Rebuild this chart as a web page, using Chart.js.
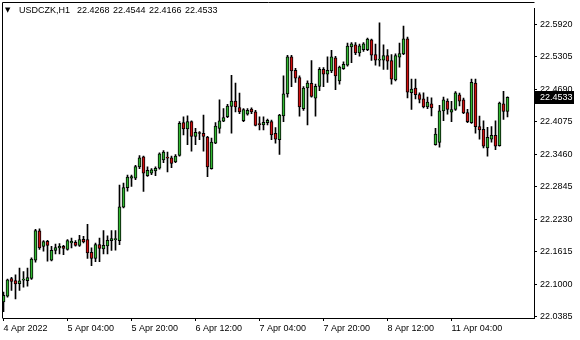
<!DOCTYPE html>
<html>
<head>
<meta charset="utf-8">
<script src="https://cdn.jsdelivr.net/npm/chart.js@4.4.0/dist/chart.umd.min.js"></script>
<style>
  html, body { margin: 0; padding: 0; background: #fff; }
  canvas { display: block; }
</style>
</head>
<body>
<canvas id="chart" width="580" height="340"></canvas>
<script>
'use strict';

// ── データ（USDCZK H1, 4 Apr 12:00 – 11 Apr 18:00） ──────────────────────
const SYMBOL = 'USDCZK,H1';

const OPEN = [
  22.0664, 22.0776, 22.1105, 22.1068, 22.1012, 22.1077, 22.1068, 22.1111, 22.1453, 22.2010,
  22.1713, 22.1811, 22.1453, 22.1639, 22.1687, 22.1718, 22.1657, 22.1780, 22.1793, 22.1732,
  22.1849, 22.1843, 22.1601, 22.1490, 22.1750, 22.1668, 22.1724, 22.1824, 22.1843, 22.1824,
  22.2456, 22.2828, 22.3007, 22.3007, 22.3219, 22.3410, 22.3051, 22.3100, 22.3144, 22.3193,
  22.3349, 22.3392, 22.3392, 22.3312, 22.3434, 22.4055, 22.3936, 22.4074, 22.3795, 22.3856,
  22.3856, 22.3782, 22.3187, 22.3670, 22.3949, 22.4085, 22.4167, 22.4364, 22.4464, 22.4340,
  22.4092, 22.4215, 22.4315, 22.4260, 22.4024, 22.4011, 22.4055, 22.4074, 22.3856, 22.3732,
  22.4185, 22.4600, 22.5301, 22.5046, 22.4910, 22.4321, 22.4711, 22.4799, 22.4520, 22.4743,
  22.5065, 22.4972, 22.5033, 22.5282, 22.4847, 22.5078, 22.5145, 22.5487, 22.5529, 22.5375,
  22.5436, 22.5436, 22.5622, 22.5344, 22.5238, 22.5238, 22.5325, 22.5232, 22.4866, 22.5293,
  22.5357, 22.5641, 22.4624, 22.4711, 22.4587, 22.4507, 22.4353, 22.4414, 22.3639, 22.3683,
  22.4278, 22.4464, 22.4252, 22.4308, 22.4581, 22.4488, 22.4247, 22.4055, 22.4804, 22.3981,
  22.3931, 22.3577, 22.3745, 22.3814, 22.3620, 22.4414, 22.4268
];
const HIGH = [
  22.0850, 22.1099, 22.1129, 22.1179, 22.1304, 22.1241, 22.1304, 22.1501, 22.2040, 22.2048,
  22.1824, 22.1830, 22.1718, 22.1761, 22.1769, 22.1737, 22.1843, 22.1873, 22.1824, 22.1923,
  22.1904, 22.2133, 22.1687, 22.1780, 22.1873, 22.2016, 22.1917, 22.2016, 22.2016, 22.2877,
  22.2914, 22.3063, 22.3063, 22.3248, 22.3434, 22.3423, 22.3219, 22.3187, 22.3219, 22.3485,
  22.3527, 22.3498, 22.3423, 22.3453, 22.4074, 22.4167, 22.4185, 22.4092, 22.3949, 22.3888,
  22.4197, 22.3795, 22.3763, 22.4055, 22.4488, 22.4321, 22.4401, 22.4953, 22.4804, 22.4613,
  22.4321, 22.4321, 22.4334, 22.4289, 22.4167, 22.4167, 22.4122, 22.4104, 22.3962, 22.4215,
  22.4940, 22.5331, 22.5331, 22.5083, 22.4940, 22.4736, 22.4847, 22.5232, 22.4786, 22.5096,
  22.5096, 22.5301, 22.5423, 22.5312, 22.5126, 22.5208, 22.5561, 22.5572, 22.5572, 22.5542,
  22.5572, 22.5654, 22.5635, 22.5542, 22.5944, 22.5529, 22.5436, 22.5344, 22.5357, 22.5561,
  22.5883, 22.5673, 22.4879, 22.4879, 22.4619, 22.4619, 22.4539, 22.4526, 22.3949, 22.4382,
  22.4539, 22.4507, 22.4457, 22.4643, 22.4613, 22.4520, 22.4308, 22.4879, 22.4879, 22.4178,
  22.4092, 22.3968, 22.3981, 22.4092, 22.4446, 22.4650, 22.4544
];
const LOW = [
  22.0479, 22.0757, 22.0882, 22.0720, 22.0882, 22.0943, 22.0962, 22.1092, 22.1415, 22.1657,
  22.1626, 22.1434, 22.1440, 22.1575, 22.1575, 22.1557, 22.1644, 22.1687, 22.1718, 22.1713,
  22.1780, 22.1490, 22.1352, 22.1427, 22.1427, 22.1575, 22.1575, 22.1639, 22.1644, 22.1750,
  22.2443, 22.2760, 22.2852, 22.2977, 22.3187, 22.2754, 22.3038, 22.3070, 22.3051, 22.3174,
  22.3299, 22.3126, 22.3206, 22.3299, 22.3423, 22.3825, 22.3639, 22.3516, 22.3639, 22.3732,
  22.3516, 22.3033, 22.3174, 22.3657, 22.3856, 22.4074, 22.4148, 22.3856, 22.4260, 22.4228,
  22.4074, 22.4197, 22.4228, 22.3992, 22.3918, 22.3918, 22.4011, 22.3732, 22.3670, 22.3453,
  22.4074, 22.4539, 22.4736, 22.4817, 22.4178, 22.4289, 22.4011, 22.4539, 22.4178, 22.4661,
  22.4736, 22.4817, 22.5003, 22.4680, 22.4786, 22.5065, 22.5126, 22.5189, 22.5344, 22.5312,
  22.5405, 22.5418, 22.5232, 22.5145, 22.5126, 22.5065, 22.5065, 22.4786, 22.4847, 22.5107,
  22.5344, 22.4526, 22.4308, 22.4507, 22.4427, 22.4334, 22.4321, 22.4185, 22.3628, 22.3591,
  22.4092, 22.4215, 22.4074, 22.4289, 22.4371, 22.4228, 22.4055, 22.4042, 22.3856, 22.3745,
  22.3577, 22.3423, 22.3689, 22.3546, 22.3609, 22.4117, 22.4166
];
const CLOSE = [
  22.0789, 22.1081, 22.1055, 22.1007, 22.1062, 22.1081, 22.1124, 22.1477, 22.2016, 22.1687,
  22.1806, 22.1732, 22.1639, 22.1694, 22.1718, 22.1676, 22.1824, 22.1811, 22.1732, 22.1843,
  22.1798, 22.1594, 22.1490, 22.1750, 22.1676, 22.1737, 22.1830, 22.1862, 22.1849, 22.2462,
  22.2828, 22.3025, 22.3038, 22.3224, 22.3392, 22.3100, 22.3156, 22.3163, 22.3193, 22.3466,
  22.3498, 22.3386, 22.3286, 22.3423, 22.4042, 22.3936, 22.4074, 22.3795, 22.3875, 22.3850,
  22.3795, 22.3219, 22.3689, 22.3992, 22.4092, 22.4154, 22.4371, 22.4464, 22.4353, 22.4260,
  22.4302, 22.4289, 22.4260, 22.4005, 22.4018, 22.4061, 22.4098, 22.3825, 22.3745, 22.4197,
  22.4600, 22.5301, 22.5033, 22.4897, 22.4353, 22.4711, 22.4804, 22.4550, 22.4743, 22.5065,
  22.4972, 22.5046, 22.5301, 22.4940, 22.5107, 22.5158, 22.5505, 22.5548, 22.5375, 22.5511,
  22.5548, 22.5635, 22.5331, 22.5238, 22.5241, 22.5325, 22.5219, 22.4879, 22.5325, 22.5362,
  22.5641, 22.4632, 22.4693, 22.4587, 22.4494, 22.4353, 22.4446, 22.4334, 22.3838, 22.4278,
  22.4488, 22.4308, 22.4302, 22.4619, 22.4464, 22.4241, 22.4074, 22.4817, 22.3981, 22.3918,
  22.3609, 22.3776, 22.3814, 22.3609, 22.4427, 22.4268, 22.4533
];

const X_TICK_INDEX  = [0, 16, 32, 48, 64, 80, 96, 112];
const X_TICK_LABELS = ['4 Apr 2022', '5 Apr 04:00', '5 Apr 20:00', '6 Apr 12:00',
                       '7 Apr 04:00', '7 Apr 20:00', '8 Apr 12:00', '11 Apr 04:00'];
const Y_TICKS = [22.0385, 22.1000, 22.1615, 22.2230, 22.2845, 22.3460, 22.4075, 22.4690, 22.5305, 22.5920];

// ── スタイル ───────────────────────────────────────────────────────────────
const BULL  = '#32b832';
const BEAR  = '#d01010';
const FONT  = "'Liberation Sans', Arial, sans-serif";
const last  = OPEN.length - 1;

const wicks  = OPEN.map((_, i) => ({ x: i, y: [LOW[i], HIGH[i]] }));
const bodies = OPEN.map((o, i) => ({ x: i, y: [o, CLOSE[i]] }));
const bodyColors = OPEN.map((o, i) => (CLOSE[i] >= o ? BULL : BEAR));

// 枠・ヘッダ・現在値ラベル
const mtOverlay = {
  id: 'mtOverlay',
  afterDraw(chart) {
    const { ctx, chartArea: a, scales } = chart;
    ctx.save();
    ctx.strokeStyle = '#000';
    ctx.lineWidth = 1;
    ctx.beginPath();
    ctx.moveTo(2.5, a.bottom + 0.5);
    ctx.lineTo(2.5, 2.5);
    ctx.lineTo(a.right + 0.5, 2.5);
    ctx.stroke();

    ctx.fillStyle = '#000';
    ctx.textBaseline = 'middle';
    ctx.font = "7px 'DejaVu Sans', sans-serif";
    ctx.fillText('▼', 5, 10.5);
    ctx.font = '9px ' + FONT;
    ctx.fillText(SYMBOL, 19, 11);
    [OPEN[last], HIGH[last], LOW[last], CLOSE[last]].forEach((v, k) => {
      ctx.fillText(v.toFixed(4), 77 + k * 36, 11);
    });

    const py = Math.round(scales.y.getPixelForValue(CLOSE[last]));
    ctx.fillRect(535, py - 6, 39, 13);
    ctx.fillStyle = '#fff';
    ctx.fillText(CLOSE[last].toFixed(4), 540, py + 0.5);
    ctx.restore();
  },
};

new Chart(document.getElementById('chart').getContext('2d'), {
  type: 'bar',
  data: {
    datasets: [
      { data: bodies, backgroundColor: bodyColors, borderColor: '#000', borderWidth: 1,
        borderSkipped: false, barThickness: 3, grouped: false, minBarLength: 1, order: 1 },
      { data: wicks, backgroundColor: '#000', borderWidth: 0,
        barThickness: 1, grouped: false, order: 2 },
    ],
  },
  options: {
    responsive: false, devicePixelRatio: 1, animation: false,
    layout: { padding: { left: 3, top: 3, right: 0, bottom: 0 } },
    plugins: { legend: { display: false }, tooltip: { enabled: false } },
    scales: {
      x: {
        type: 'linear', offset: false, min: -0.125, max: 132.625,
        grid: { display: true, drawOnChartArea: false, offset: false, tickLength: 3, color: '#000' },
        border: { display: true, color: '#000' },
        afterBuildTicks: s => { s.ticks = X_TICK_INDEX.map(v => ({ value: v })); },
        afterFit: s => { s.height = 22; },
        ticks: {
          autoSkip: false, maxRotation: 0, minRotation: 0, align: 'start', padding: 2,
          color: '#000', font: { family: FONT, size: 9 },
          callback: (v, i) => X_TICK_LABELS[i],
        },
      },
      y: {
        position: 'right', beginAtZero: false, min: 22.0361, max: 22.6217,
        grid: { display: true, drawOnChartArea: false, tickLength: 3, color: '#000' },
        border: { display: true, color: '#000' },
        afterBuildTicks: s => { s.ticks = Y_TICKS.map(v => ({ value: v })); },
        afterFit: s => { s.width = 46; },
        ticks: {
          padding: 3, color: '#000', font: { family: FONT, size: 9 },
          callback: v => v.toFixed(4),
        },
      },
    },
  },
  plugins: [mtOverlay],
});
</script>
</body>
</html>
